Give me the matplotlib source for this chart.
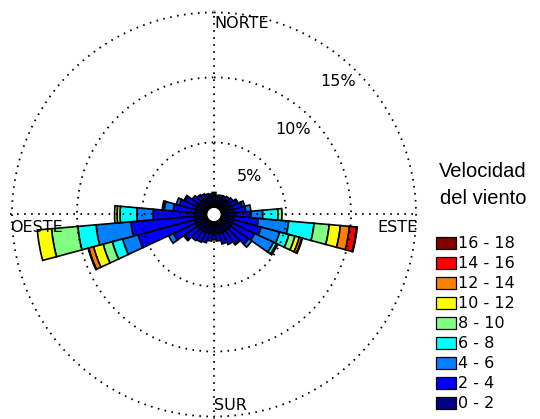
import numpy as np
import matplotlib
matplotlib.use('Agg')
import matplotlib.pyplot as plt
from matplotlib.patches import Rectangle

# direction bins (degrees, clockwise from north), 10 degree sectors
directions = np.arange(0, 360, 10)

speed_labels = ['0 - 2', '2 - 4', '4 - 6', '6 - 8', '8 - 10',
                '10 - 12', '12 - 14', '14 - 16', '16 - 18']
speed_colors = [(0, 0, 0.5), (0, 0, 1), (0, 0.5, 1), (0, 1, 1), (0.5, 1, 0.5),
                (1, 1, 0), (1, 0.5, 0), (1, 0, 0), (0.5, 0, 0)]

# frequency (%) per direction for each speed class
freq_0_2 = [0.9, 0.8, 0.8, 0.8, 0.85, 0.85, 0.9, 0.9, 0.95, 1.0, 1.0, 1.0,
            1.0, 1.0, 1.0, 0.95, 0.95, 0.9, 0.9, 0.9, 0.9, 0.95, 1.0, 1.0,
            1.0, 1.0, 1.0, 0.9, 0.9, 0.9, 0.9, 0.85, 0.85, 0.85, 0.85, 0.85]
freq_2_4 = [0.25, 0.15, 0.2, 0.25, 0.3, 0.4, 0.5, 0.8, 0.95, 1.3, 1.88, 2.2,
            1.9, 1.7, 1.2, 1.05, 0.85, 0.6, 0.5, 0.6, 0.8, 0.85, 0.9, 1.2,
            1.9, 4.5, 4.87, 3.24, 1.7, 1.3, 1.0, 0.65, 0.45, 0.35, 0.25, 0.2]
freq_4_6 = [0, 0, 0, 0, 0, 0, 0.1, 0.2, 0.4, 0.9, 2.34, 1.48,
            1.6, 0.3, 0.1, 0, 0, 0, 0, 0, 0, 0, 0, 0.1,
            0.4, 1.23, 2.69, 1.25, 0.7, 0.25, 0.1, 0, 0, 0, 0, 0]
freq_6_8 = [0, 0, 0, 0, 0, 0, 0, 0, 0, 1.17, 1.96, 0.74,
            0.25, 0, 0, 0, 0, 0, 0, 0, 0, 0, 0, 0,
            0, 0.82, 1.41, 1.29, 0.05, 0, 0, 0, 0, 0, 0, 0]
freq_8_10 = [0, 0, 0, 0, 0, 0, 0, 0, 0, 0.31, 1.17, 0.48,
             0.11, 0, 0, 0, 0, 0, 0, 0, 0, 0, 0, 0,
             0, 0.73, 2.03, 0.23, 0.1, 0, 0, 0, 0, 0, 0, 0]
freq_10_12 = [0, 0, 0, 0, 0, 0, 0, 0, 0, 0, 0.86, 0.34,
              0, 0, 0, 0, 0, 0, 0, 0, 0, 0, 0, 0,
              0, 0.77, 1.1, 0.19, 0, 0, 0, 0, 0, 0, 0, 0]
freq_12_14 = [0, 0, 0, 0, 0, 0, 0, 0, 0, 0, 0.70, 0.21,
              0, 0, 0, 0, 0, 0, 0, 0, 0, 0, 0, 0,
              0, 0.38, 0, 0, 0, 0, 0, 0, 0, 0, 0, 0]
freq_14_16 = [0, 0, 0, 0, 0, 0, 0, 0, 0, 0, 0.55, 0.05,
              0, 0, 0, 0, 0, 0, 0, 0, 0, 0, 0, 0,
              0, 0.05, 0, 0, 0, 0, 0, 0, 0, 0, 0, 0]
freq_16_18 = [0, 0, 0, 0, 0, 0, 0, 0, 0, 0, 0.05, 0,
              0, 0, 0, 0, 0, 0, 0, 0, 0, 0, 0, 0,
              0, 0, 0, 0, 0, 0, 0, 0, 0, 0, 0, 0]

rings = [5, 10, 15]
ring_labels = ['5%', '10%', '15%']

freqs = [freq_0_2, freq_2_4, freq_4_6, freq_6_8, freq_8_10,
         freq_10_12, freq_12_14, freq_14_16, freq_16_18]

W, H = 540, 419
fig = plt.figure(figsize=(5.4, 4.19), dpi=100)
ax = fig.add_axes([10 / W, 0.5 / H, 408 / W, 408 / H], projection='polar')
ax.set_theta_zero_location('N')
ax.set_theta_direction(-1)

theta = np.deg2rad(directions)
width = np.deg2rad(10)
bottom = np.zeros(len(directions))
for vals, col in zip(freqs, speed_colors):
    vals = np.array(vals, dtype=float)
    m = vals > 0
    ax.bar(theta[m], vals[m], width=width, bottom=bottom[m], color=col,
           edgecolor='black', linewidth=1.2, zorder=2)
    bottom += vals

# dotted rings and axes cross drawn over the bars
t = np.linspace(0, 2 * np.pi, 600)
dots = (0, (0.9, 3.0))
for r in rings:
    ax.plot(t, np.full_like(t, r), color='black', linestyle=dots, lw=1.3,
            zorder=5, clip_on=False)
ax.plot([0, 1], [0.5, 0.5], transform=ax.transAxes, color='black',
        linestyle=dots, lw=1.3, zorder=5)
ax.plot([0.5, 0.5], [0, 1], transform=ax.transAxes, color='black',
        linestyle=dots, lw=1.3, zorder=5)

ax.set_ylim(0, 15.15)
ax.set_rorigin(-0.55)
ax.set_xticks([])
ax.set_yticks([])
ax.grid(False)
for s in ax.spines.values():
    s.set_visible(False)

for r, lab in zip(rings, ring_labels):
    ax.text(np.deg2rad(43), r - 1.6, lab, ha='center', va='center',
            fontsize=11.5, zorder=6)

fs = 11.5
ax.text(0.5, 0.967, 'NORTE', transform=ax.transAxes, ha='left', va='center', fontsize=fs, zorder=6)
ax.text(0.5, 0.033, 'SUR', transform=ax.transAxes, ha='left', va='center', fontsize=fs, zorder=6)
ax.text(1.0, 0.467, 'ESTE', transform=ax.transAxes, ha='right', va='center', fontsize=fs, zorder=6)
ax.text(0.0, 0.467, 'OESTE', transform=ax.transAxes, ha='left', va='center', fontsize=fs, zorder=6)

# legend
fig.text(483 / W, 1 - 171.5 / H, 'Velocidad', ha='center', va='center',
         fontsize=14.5, family='Liberation Sans')
fig.text(483 / W, 1 - 198.5 / H, 'del viento', ha='center', va='center',
         fontsize=14.5, family='Liberation Sans')
for i, (lab, col) in enumerate(zip(speed_labels[::-1], speed_colors[::-1])):
    yc = 243 + i * 20.0
    fig.add_artist(Rectangle((436 / W, 1 - (yc + 6) / H), 20 / W, 12 / H,
                             transform=fig.transFigure, facecolor=col,
                             edgecolor='black', linewidth=0.9))
    fig.text(458.5 / W, 1 - yc / H, lab, ha='left', va='center', fontsize=fs)

fig.savefig('out.png', dpi=100)
